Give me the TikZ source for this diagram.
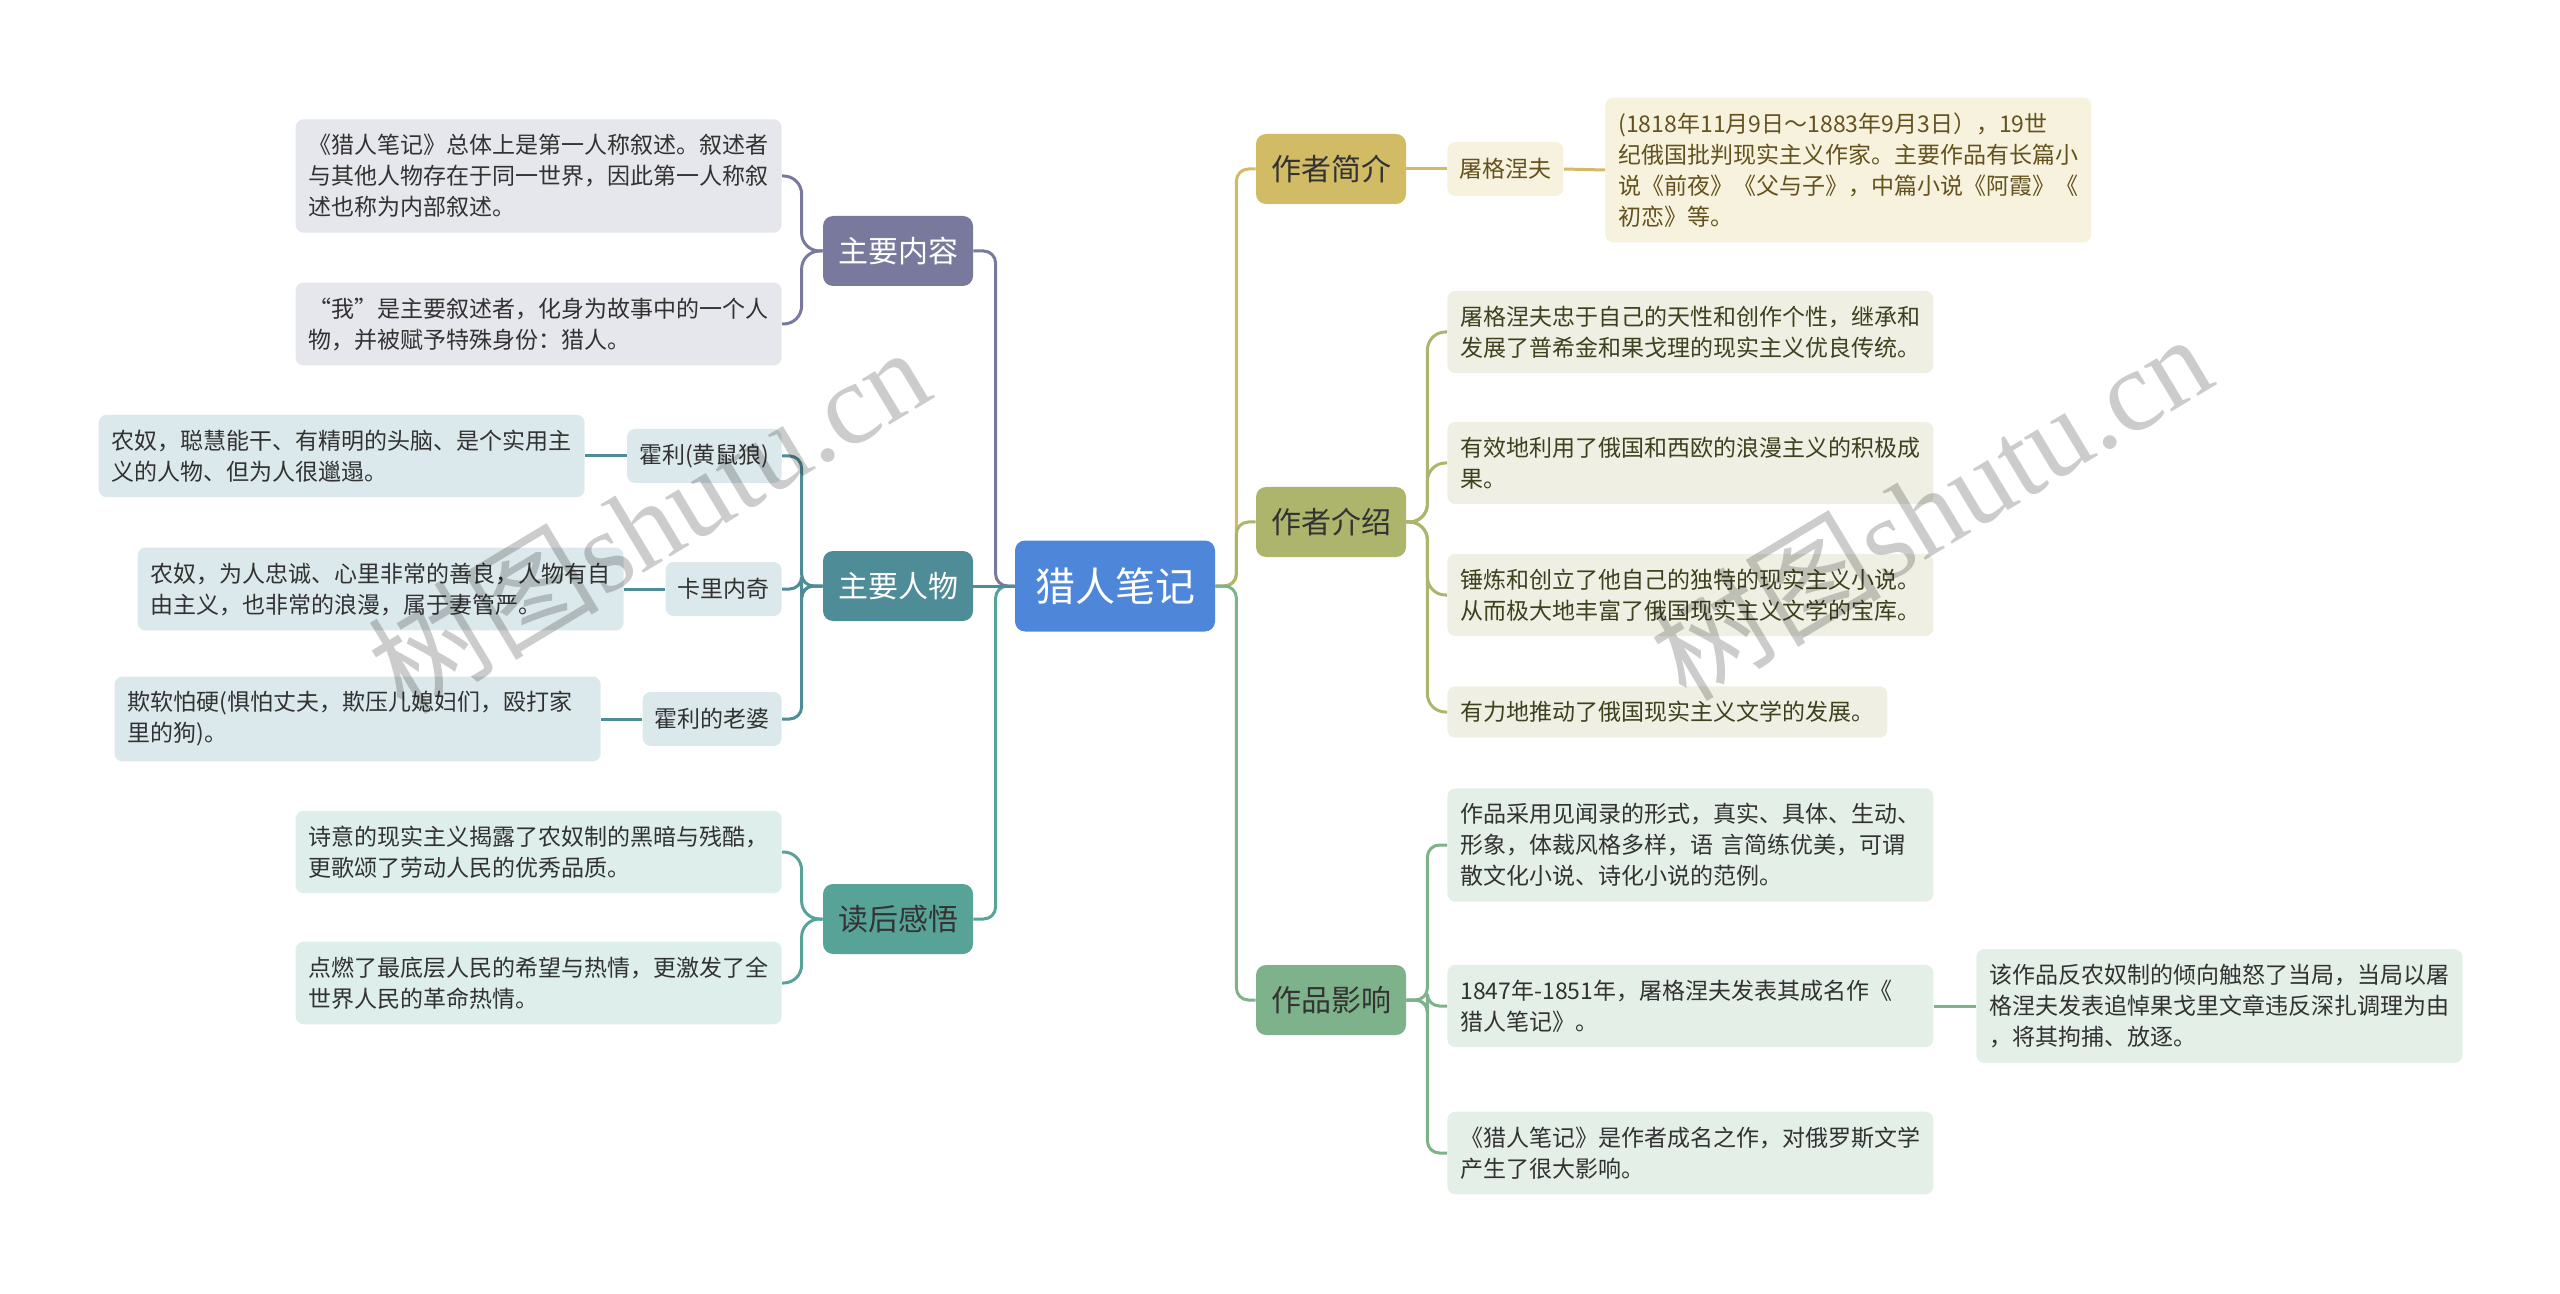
\documentclass[tikz,border=0pt]{standalone}
\usepackage{fontspec}
\setmainfont{Noto Sans CJK SC}
\newfontfamily\wmlatin{Liberation Serif}
\usepackage{tikz}
\usetikzlibrary{positioning,calc}

\definecolor{rootblue}{RGB}{78,134,218}
\definecolor{slate}{RGB}{121,121,158}
\definecolor{slateleaf}{RGB}{230,230,237}
\definecolor{tealA}{RGB}{78,140,152}
\definecolor{tealAleaf}{RGB}{220,233,236}
\definecolor{tealB}{RGB}{88,163,152}
\definecolor{tealBleaf}{RGB}{221,238,235}
\definecolor{gold}{RGB}{209,187,100}
\definecolor{goldleaf}{RGB}{246,242,222}
\definecolor{goldtext}{RGB}{100,82,30}
\definecolor{olive}{RGB}{173,181,108}
\definecolor{oliveleaf}{RGB}{239,240,227}
\definecolor{olivetext}{RGB}{62,64,30}
\definecolor{sage}{RGB}{126,178,138}
\definecolor{sageleaf}{RGB}{228,239,232}
\definecolor{inkgray}{RGB}{50,50,50}

\tikzset{
  rootbox/.style={rounded corners=5pt, fill=rootblue, text=white, minimum width=100pt,
    minimum height=45.5pt, font=\fontsize{20}{24}\selectfont},
  branchbox/.style={rounded corners=5pt, minimum width=75pt, minimum height=35pt,
    font=\fontsize{15}{18}\selectfont},
  leafbox/.style={rounded corners=4pt, inner xsep=6.5pt, inner ysep=7.5pt, text width=230pt,
    align=left, text=inkgray, font=\fontsize{11.5}{15.5}\selectfont},
  tagbox/.style={rounded corners=4pt, inner xsep=6pt, inner ysep=3pt, minimum height=27pt,
    text=inkgray, font=\fontsize{11.5}{14}\selectfont},
  link/.style={line width=1.5pt, rounded corners=6pt},
  bracket/.style={line width=1.5pt, rounded corners=9pt},
  watermark/.style={rotate=31, text=black, text opacity=0.2, font=\fontsize{58}{60}\selectfont},
}

\begin{document}
\begin{tikzpicture}[x=0.5pt, y=-0.5pt]
  \useasboundingbox (0,0) rectangle (2560,1294);

  % centre and main branches
  \node[rootbox] (root) at (1115,586) {猎人笔记};
  \node[branchbox, fill=slate, text=white] (content) at (898,251) {主要内容};
  \node[branchbox, fill=tealA, text=white] (people) at (898,586) {主要人物};
  \node[branchbox, fill=tealB, text=black!80] (feel) at (898,919) {读后感悟};
  \node[branchbox, fill=gold, text=black!80] (brief) at (1331,169) {作者简介};
  \node[branchbox, fill=olive, text=black!80] (intro) at (1331,522) {作者介绍};
  \node[branchbox, fill=sage, text=black!80] (impact) at (1331,1000) {作品影响};

  % 主要内容
  \node[leafbox, fill=slateleaf, anchor=east] (c1) at (782,176) {《猎人笔记》总体上是第一人称叙述。叙述者\\与其他人物存在于同一世界，因此第一人称叙\\述也称为内部叙述。};
  \node[leafbox, fill=slateleaf, anchor=east] (c2) at (782,324) {“我”是主要叙述者，化身为故事中的一个人\\物，并被赋予特殊身份：猎人。};

  % 主要人物
  \node[tagbox, fill=tealAleaf, anchor=east] (p1) at (782,456) {霍利(黄鼠狼)};
  \node[tagbox, fill=tealAleaf, anchor=east] (p2) at (782,589) {卡里内奇};
  \node[tagbox, fill=tealAleaf, anchor=east] (p3) at (782,719) {霍利的老婆};
  \node[leafbox, fill=tealAleaf, anchor=east] (p1l) at (585,456) {农奴，聪慧能干、有精明的头脑、是个实用主\\义的人物、但为人很邋遢。};
  \node[leafbox, fill=tealAleaf, anchor=east] (p2l) at (624,589) {农奴，为人忠诚、心里非常的善良，人物有自\\由主义，也非常的浪漫，属于妻管严。};
  \node[leafbox, fill=tealAleaf, anchor=east] (p3l) at (601,719) {欺软怕硬(惧怕丈夫，欺压儿媳妇们，殴打家\\里的狗)。};

  % 读后感悟
  \node[leafbox, fill=tealBleaf, anchor=east] (f1) at (782,852) {诗意的现实主义揭露了农奴制的黑暗与残酷，\\更歌颂了劳动人民的优秀品质。};
  \node[leafbox, fill=tealBleaf, anchor=east] (f2) at (782,983) {点燃了最底层人民的希望与热情，更激发了全\\世界人民的革命热情。};

  % 作者简介
  \node[tagbox, fill=goldleaf, text=goldtext, anchor=west] (b1) at (1447,169) {屠格涅夫};
  \node[leafbox, fill=goldleaf, text=goldtext, anchor=west] (b1l) at (1605,170) {(1818年11月9日～1883年9月3日），19世\\纪俄国批判现实主义作家。主要作品有长篇小\\说《前夜》《父与子》，中篇小说《阿霞》《\\初恋》等。};

  % 作者介绍
  \node[leafbox, fill=oliveleaf, text=olivetext, anchor=west] (i1) at (1447,332) {屠格涅夫忠于自己的天性和创作个性，继承和\\发展了普希金和果戈理的现实主义优良传统。};
  \node[leafbox, fill=oliveleaf, text=olivetext, anchor=west] (i2) at (1447,463) {有效地利用了俄国和西欧的浪漫主义的积极成\\果。};
  \node[leafbox, fill=oliveleaf, text=olivetext, anchor=west] (i3) at (1447,595) {锤炼和创立了他自己的独特的现实主义小说。\\从而极大地丰富了俄国现实主义文学的宝库。};
  \node[leafbox, fill=oliveleaf, text=olivetext, anchor=west, text width=207pt] (i4) at (1447,712) {有力地推动了俄国现实主义文学的发展。};

  % 作品影响
  \node[leafbox, fill=sageleaf, anchor=west] (m1) at (1447,845) {作品采用见闻录的形式，真实、具体、生动、\\形象，体裁风格多样，语 言简练优美，可谓\\散文化小说、诗化小说的范例。};
  \node[leafbox, fill=sageleaf, anchor=west] (m2) at (1447,1006) {1847年-1851年，屠格涅夫发表其成名作《\\猎人笔记》。};
  \node[leafbox, fill=sageleaf, anchor=west] (m3) at (1447,1153) {《猎人笔记》是作者成名之作，对俄罗斯文学\\产生了很大影响。};
  \node[leafbox, fill=sageleaf, anchor=west] (m2s) at (1976,1006) {该作品反农奴制的倾向触怒了当局，当局以屠\\格涅夫发表追悼果戈里文章违反深扎调理为由\\，将其拘捕、放逐。};

  % connectors
  \draw[link, slate] (root.west) -- ++(-19,0) |- (content.east);
  \draw[link, tealB] (root.west) -- ++(-19,0) |- (feel.east);
  \draw[link, tealA] (people.east) -- (root.west);
  \draw[link, gold] (root.east) -- ++(21,0) |- (brief.west);
  \draw[link, olive] (root.east) -- ++(21,0) |- (intro.west);
  \draw[link, sage] (root.east) -- ++(21,0) |- (impact.west);

  \foreach \n in {c1,c2} \draw[bracket, slate] (content.west) -- ++(-21,0) |- (\n.east);
  \foreach \n in {p1,p2,p3} \draw[link, tealA] (people.west) -- ++(-21,0) |- (\n.east);
  \foreach \n in {1,2,3} \draw[link, tealA] (p\n.west) -- (p\n l.east);
  \foreach \n in {f1,f2} \draw[bracket, tealB] (feel.west) -- ++(-21,0) |- (\n.east);
  \draw[link, gold] (brief.east) -- (b1.west);
  \draw[link, gold] (b1.east) -- (b1l.west);
  \foreach \n in {i1,i2,i3,i4} \draw[bracket, olive] (intro.east) -- ++(21,0) |- (\n.west);
  \foreach \n in {m1,m2,m3} \draw[link, sage] (impact.east) -- ++(21,0) |- (\n.west);
  \draw[link, sage] (m2.east) -- (m2s.west);

  % watermark
  \node[watermark] (wmL) at (648,519) {树图{\wmlatin shutu.cn}};
  \node[watermark] (wmR) at (1930,506) {树图{\wmlatin shutu.cn}};
\end{tikzpicture}
\end{document}
